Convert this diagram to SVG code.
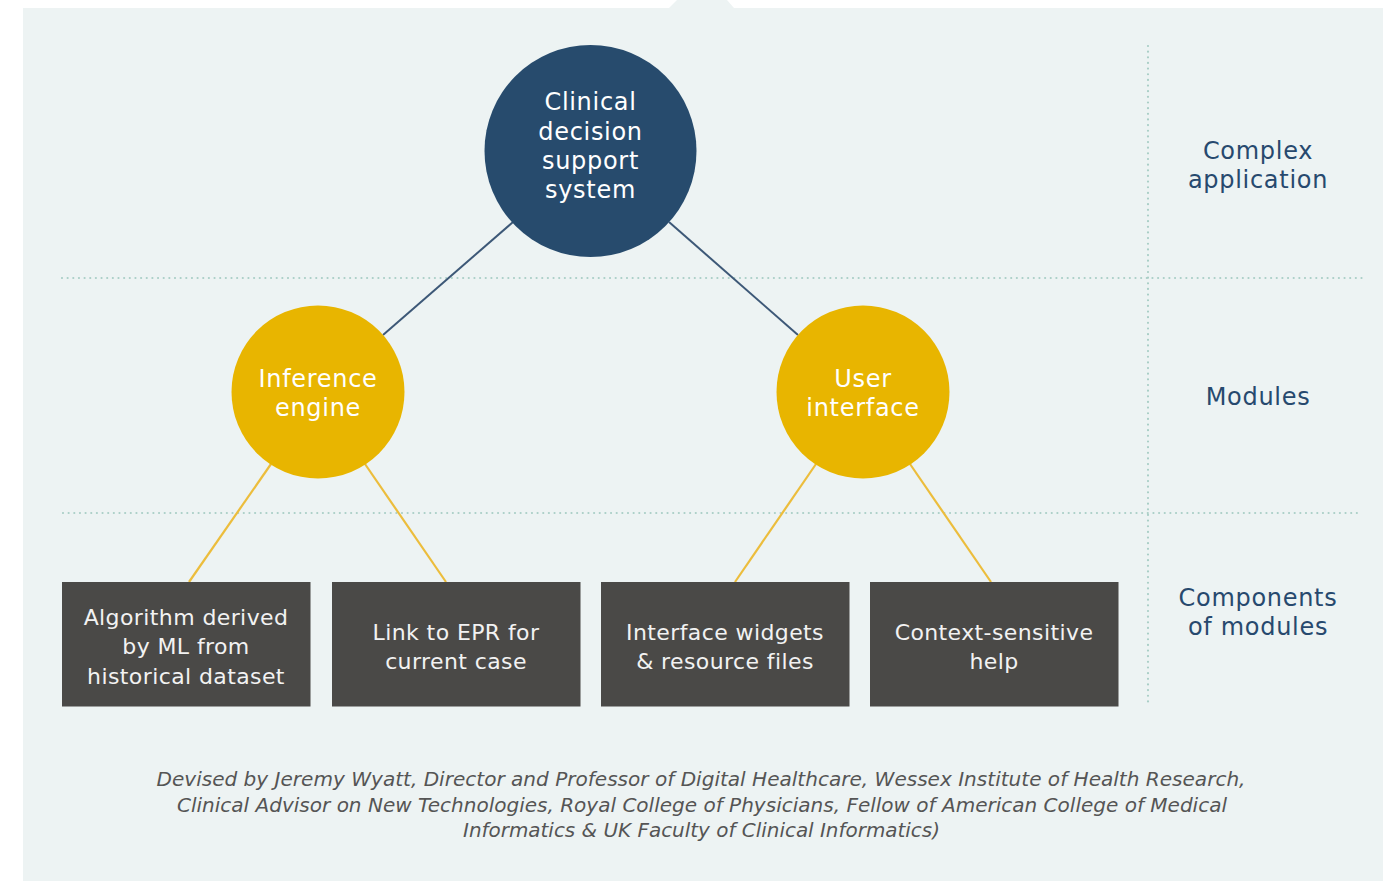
<svg xmlns="http://www.w3.org/2000/svg" width="1397" height="881" viewBox="0 0 1397 881">
<style>
.dot{stroke:#a9cec6;stroke-width:2.2;stroke-linecap:round;stroke-dasharray:0 5.65;fill:none}
.blue{stroke:#3d5877;stroke-width:2;fill:none}
.yel{stroke:#ecbd3c;stroke-width:2.2;fill:none}
.ct{font-family:"DejaVu Sans",sans-serif;font-size:24px;letter-spacing:0.7px;fill:#ffffff;text-anchor:middle}
.bt{font-family:"DejaVu Sans",sans-serif;font-size:22px;letter-spacing:0.4px;fill:#f2f2f2;text-anchor:middle}
.lt{font-family:"DejaVu Sans",sans-serif;font-size:24px;letter-spacing:0.7px;fill:#27496e;text-anchor:middle}
.ft{font-family:"DejaVu Sans",sans-serif;font-size:19px;font-style:italic;fill:#555555;text-anchor:middle}
.box{fill:#4a4947}
</style>
<rect width="1397" height="881" fill="#ffffff"/>
<path d="M23 8 H669 L677 0 H727 L734 8 H1383 V881 H23 Z" fill="#edf3f3"/>
<g id="gridlines">
<line class="dot" x1="62" y1="278" x2="1366" y2="278"/>
<line class="dot" x1="63" y1="513" x2="1357" y2="513"/>
<line class="dot" x1="1148" y1="46" x2="1148" y2="705"/>
</g>
<g id="connectors">
<line class="blue" x1="513" y1="222" x2="383" y2="335"/>
<line class="blue" x1="669" y1="222" x2="798" y2="335"/>
<line class="yel" x1="271" y1="464" x2="189" y2="582"/>
<line class="yel" x1="365" y1="464" x2="446" y2="582"/>
<line class="yel" x1="816" y1="464" x2="735" y2="582"/>
<line class="yel" x1="910" y1="464" x2="991" y2="582"/>
</g>
<g id="cdss">
<circle cx="590.5" cy="151" r="106" fill="#274b6d"/>
<text class="ct" x="590.5" y="110">Clinical</text>
<text class="ct" x="590.5" y="139.5">decision</text>
<text class="ct" x="590.5" y="169">support</text>
<text class="ct" x="590.5" y="198">system</text>
</g>
<g id="inference">
<circle cx="318" cy="392" r="86.5" fill="#e8b500"/>
<text class="ct" x="318" y="387">Inference</text>
<text class="ct" x="318" y="416">engine</text>
</g>
<g id="ui">
<circle cx="863" cy="392" r="86.5" fill="#e8b500"/>
<text class="ct" x="863" y="387">User</text>
<text class="ct" x="863" y="416">interface</text>
</g>
<g id="comp1">
<rect class="box" x="62" y="582" width="248.5" height="124.5"/>
<text class="bt" x="186" y="625">Algorithm derived</text>
<text class="bt" x="186" y="654">by ML from</text>
<text class="bt" x="186" y="684">historical dataset</text>
</g>
<g id="comp2">
<rect class="box" x="332" y="582" width="248.5" height="124.5"/>
<text class="bt" x="456" y="640">Link to EPR for</text>
<text class="bt" x="456" y="669">current case</text>
</g>
<g id="comp3">
<rect class="box" x="601" y="582" width="248.5" height="124.5"/>
<text class="bt" x="725" y="640">Interface widgets</text>
<text class="bt" x="725" y="669">&amp; resource files</text>
</g>
<g id="comp4">
<rect class="box" x="870" y="582" width="248.5" height="124.5"/>
<text class="bt" x="994" y="640">Context-sensitive</text>
<text class="bt" x="994" y="669">help</text>
</g>
<g id="labels">
<text class="lt" x="1258" y="159">Complex</text>
<text class="lt" x="1258" y="188">application</text>
<text class="lt" x="1258" y="405">Modules</text>
<text class="lt" x="1258" y="606">Components</text>
<text class="lt" x="1258" y="635">of modules</text>
</g>
<g id="footer">
<text class="ft" x="701" y="786" textLength="1089" lengthAdjust="spacingAndGlyphs">Devised by Jeremy Wyatt, Director and Professor of Digital Healthcare, Wessex Institute of Health Research,</text>
<text class="ft" x="702" y="812" textLength="1050" lengthAdjust="spacingAndGlyphs">Clinical Advisor on New Technologies, Royal College of Physicians, Fellow of American College of Medical</text>
<text class="ft" x="701.5" y="837" textLength="477" lengthAdjust="spacingAndGlyphs">Informatics &amp; UK Faculty of Clinical Informatics)</text>
</g>
</svg>
